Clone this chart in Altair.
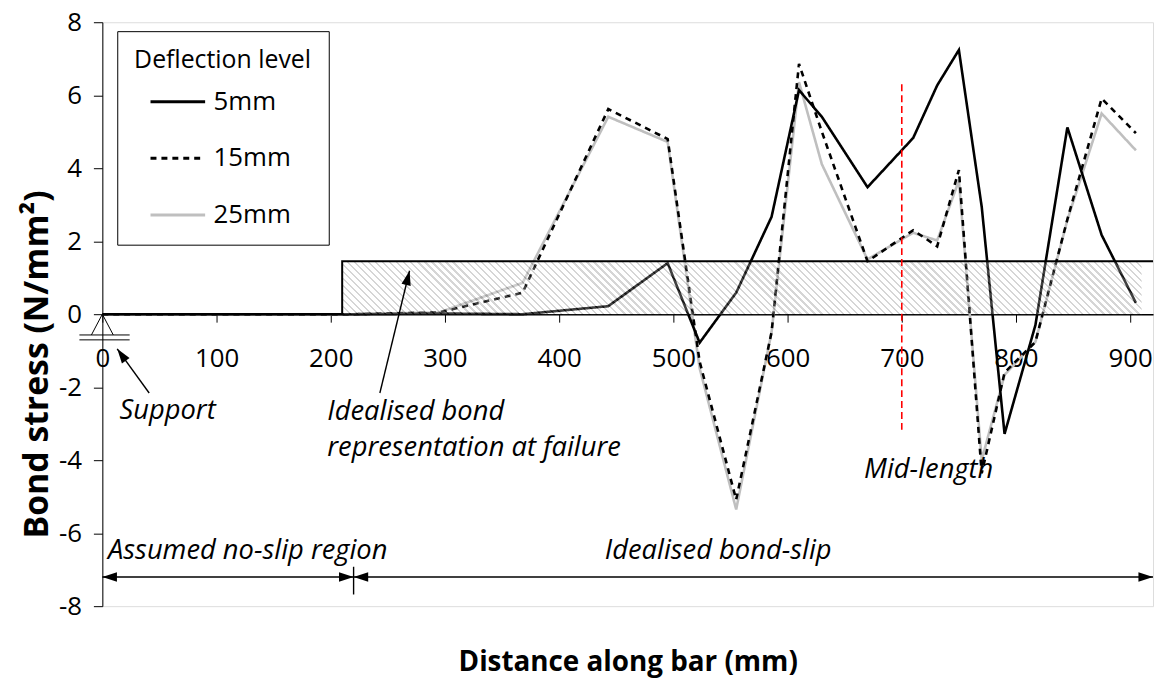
import math
import altair as alt
import pandas as pd

# ---------------- data ----------------
distance_mm = [0, 75, 150, 220, 295, 368, 443, 495, 523, 555, 586, 610, 630,
               670, 710, 731, 750, 770, 790, 817, 845, 875, 905]
stress_5mm = [0, 0, 0, 0, 0.02, 0.0, 0.22, 1.40, -0.78, 0.59, 2.67, 6.14, 5.41,
              3.48, 4.83, 6.27, 7.24, 2.94, -3.28, -0.30, 5.12, 2.17, 0.31]
stress_15mm = [0, 0, 0, 0, 0.05, 0.59, 5.62, 4.80, -1.30, -5.08, -0.49, 6.86, 5.00,
               1.45, 2.30, 1.86, 3.95, -4.36, -1.60, -0.76, 2.60, 5.91, 4.96]
stress_25mm = [0, 0, 0, 0, 0.05, 0.86, 5.41, 4.72, -1.48, -5.35, -0.49, 6.36, 4.11,
               1.50, 2.23, 2.02, 3.66, -4.00, -1.66, -0.76, 2.58, 5.50, 4.49]
deflection_levels = ["5mm", "15mm", "25mm"]

# idealised bond representation at failure
idealised_x = [210, 210, 920]
idealised_y = [0, 1.45, 1.45]
hatch_x, hatch_x2 = [210], [910]
hatch_y, hatch_y2 = [0], [1.45]

# mid-length marker
mid_length_x = [700]
mid_line_top = [6.3]
mid_line_bottom = [-3.2]

# region dimension arrows
region_start = [0, 220]
region_end = [220, 920]
region_y = -7.2
region_tick_top, region_tick_bottom = -6.92, -7.68

# text annotations
annotation_text = ["Support", "Idealised bond", "representation at failure",
                   "Mid-length", "Assumed no-slip region", "Idealised bond-slip"]
annotation_x = [15, 197, 197, 667, 5, 440]
annotation_y = [-2.65, -2.68, -3.68, -4.27, -6.49, -6.49]

# pointer arrows (tail -> head)
pointer_tail_x = [41, 243]
pointer_tail_y = [-2.16, -2.16]
pointer_head_x = [13, 269]
pointer_head_y = [-0.95, 1.19]

# ---------------- layout ----------------
W, H = 1058, 588
XMIN, XMAX = 0, 920
YMIN, YMAX = -8, 8
PX_X = W / (XMAX - XMIN)
PX_Y = H / (YMAX - YMIN)
FONT = "Open Sans"

xscale = alt.Scale(domain=[XMIN, XMAX], nice=False, zero=False)
yscale = alt.Scale(domain=[YMIN, YMAX], nice=False, zero=False)

xaxis = alt.Axis(title="Distance along bar (mm)", values=list(range(0, 1000, 100)),
                 offset=-(H / 2), grid=False, domainColor="black", domainWidth=1.5,
                 tickColor="black", tickSize=8, tickWidth=1,
                 labelFont=FONT, labelFontSize=26, labelColor="black", labelPadding=24,
                 labelFlush=False, labelOverlap=False,
                 titleFont=FONT, titleFontSize=28, titleFontWeight="bold",
                 titleColor="black", titleY=351, titleBaseline="middle")
yaxis = alt.Axis(title="Bond stress (N/mm²)", values=list(range(-8, 9, 2)),
                 grid=False, domainColor="black", domainWidth=1,
                 tickColor="black", tickSize=9, tickWidth=1,
                 labelFont=FONT, labelFontSize=26, labelColor="black", labelPadding=12,
                 labelExpr="datum.value + ''", labelFlush=False, labelOverlap=False,
                 titleFont=FONT, titleFontSize=34, titleFontWeight="bold",
                 titleColor="black", titleX=-65, titleY=344, titleAngle=270,
                 titleAlign="center", titleBaseline="middle")


def X(f):
    return alt.X(f, type="quantitative", scale=xscale, axis=xaxis)


def Y(f):
    return alt.Y(f, type="quantitative", scale=yscale, axis=yaxis)


# ---------------- line series ----------------
rows = []
for lvl, vals in zip(deflection_levels, [stress_5mm, stress_15mm, stress_25mm]):
    for i, (d, v) in enumerate(zip(distance_mm, vals)):
        rows.append({"distance": d, "stress": v, "level": lvl, "i": i})
lines_df = pd.DataFrame(rows)

color_scale = alt.Scale(domain=deflection_levels, range=["black", "black", "#bfbfbf"])
dash_scale = alt.Scale(domain=deflection_levels, range=[[1, 0], [6, 5], [1, 0]])
legend = alt.Legend(title="Deflection level", orient="none", legendX=15, legendY=9,
                    titleFont=FONT, titleFontSize=25, titleFontWeight="normal",
                    titleColor="black", titleLimit=600, labelLimit=300,
                    labelFont=FONT, labelFontSize=26,
                    labelColor="black", symbolType="stroke", symbolSize=3025,
                    symbolStrokeWidth=3, symbolOffset=15, strokeColor="black",
                    fillColor="white", padding=17, rowPadding=15, labelOffset=7,
                    titlePadding=0)


def series_layer(lvl):
    return alt.Chart(lines_df).transform_filter(
        alt.datum.level == lvl
    ).mark_line(strokeWidth=2.6).encode(
        x=X("distance"), y=Y("stress"),
        color=alt.Color("level:N", scale=color_scale, legend=legend, sort=deflection_levels),
        strokeDash=alt.StrokeDash("level:N", scale=dash_scale, legend=legend,
                                  sort=deflection_levels),
        order="i:Q",
    )


# ---------------- hatched idealised-bond region ----------------
rect_w = (hatch_x2[0] - hatch_x[0]) * PX_X
rect_h = (hatch_y2[0] - hatch_y[0]) * PX_Y
k = (rect_w + rect_h) / (rect_w ** 2 + rect_h ** 2)
n_stripes = int(((rect_w + rect_h) / math.sqrt(2)) / 5)
stops = []
for i in range(n_stripes):
    a, b, c = i / n_stripes, (i + 0.32) / n_stripes, (i + 1) / n_stripes
    stops += [alt.GradientStop(color="#5a5a5a", offset=round(a, 6)),
              alt.GradientStop(color="#5a5a5a", offset=round(b, 6)),
              alt.GradientStop(color="white", offset=round(b, 6)),
              alt.GradientStop(color="white", offset=round(c, 6))]
hatch_grad = alt.Gradient(gradient="linear", stops=stops, x1=0, y1=1,
                          x2=k * rect_w, y2=1 - k * rect_h)

hatch_df = pd.DataFrame({"x": hatch_x, "x2": hatch_x2, "y": hatch_y, "y2": hatch_y2})
hatch = alt.Chart(hatch_df).mark_rect(fill=hatch_grad, opacity=0.25).encode(
    x=X("x"), x2="x2:Q", y=Y("y"), y2="y2:Q")

ideal_df = pd.DataFrame({"x": idealised_x, "y": idealised_y, "i": range(len(idealised_x))})
ideal = alt.Chart(ideal_df).mark_line(color="black", strokeWidth=2).encode(
    x=X("x"), y=Y("y"), order="i:Q")

# ---------------- mid-length marker ----------------
mid_df = pd.DataFrame({"x": mid_length_x, "y": mid_line_top, "y2": mid_line_bottom})
mid = alt.Chart(mid_df).mark_rule(color="#ff0000", strokeWidth=1.6,
                                  strokeDash=[7, 4]).encode(
    x=X("x"), y=Y("y"), y2="y2:Q")

# ---------------- support symbol ----------------
support_df = pd.DataFrame({"x": [0], "y": [0]})
support = alt.Chart(support_df).mark_point(
    shape="M-1,1.9L0,0L1,1.9M-2.1,1.9H2.5M-2.1,2.35H2.5",
    size=484, filled=False, color="black", strokeWidth=1, opacity=1).encode(
    x=X("x"), y=Y("y"))

# ---------------- arrows ----------------
ARROW = "M0,0L-0.45,1.4L0.45,1.4Z"

seg_rows, head_rows = [], []
for s, e in zip(region_start, region_end):
    seg_rows.append({"x": s, "y": region_y, "x2": e, "y2": region_y})
    head_rows.append({"x": s, "y": region_y, "ang": 270})
    head_rows.append({"x": e, "y": region_y, "ang": 90})
seg_rows.append({"x": region_start[1], "y": region_tick_top,
                 "x2": region_start[1], "y2": region_tick_bottom})
for tx, ty, hx, hy in zip(pointer_tail_x, pointer_tail_y, pointer_head_x, pointer_head_y):
    seg_rows.append({"x": tx, "y": ty, "x2": hx, "y2": hy})
    dx = (hx - tx) * PX_X
    dy = -(hy - ty) * PX_Y
    ang = math.degrees(math.atan2(dx, -dy)) % 360
    head_rows.append({"x": hx, "y": hy, "ang": ang})

seg_df = pd.DataFrame(seg_rows)
head_df = pd.DataFrame(head_rows)

segs = alt.Chart(seg_df).mark_rule(color="black", strokeWidth=1.4).encode(
    x=X("x"), y=Y("y"), x2="x2:Q", y2="y2:Q")
heads = alt.Chart(head_df).mark_point(shape=ARROW, size=440, filled=True,
                                      color="black", opacity=1).encode(
    x=X("x"), y=Y("y"), angle=alt.Angle("ang:Q", scale=None))

# ---------------- text ----------------
text_df = pd.DataFrame({"label": annotation_text, "x": annotation_x, "y": annotation_y})
texts = alt.Chart(text_df).mark_text(align="left", baseline="middle", font=FONT,
                                     fontSize=27.5, fontStyle="italic",
                                     color="black").encode(
    x=X("x"), y=Y("y"), text="label:N")

chart = alt.layer(
    series_layer("25mm"), series_layer("15mm"), series_layer("5mm"),
    hatch, ideal, mid, support, segs, heads, texts,
).properties(
    width=W, height=H,
    padding={"left": 95, "top": 12, "right": 5, "bottom": 70},
    autosize=alt.AutoSizeParams(type="none"),
).configure_view(
    stroke="#8c8c8c", strokeWidth=1.2
).configure(font=FONT, background="white")

chart.save("out.html", embed_options={"renderer": "svg", "actions": False})
